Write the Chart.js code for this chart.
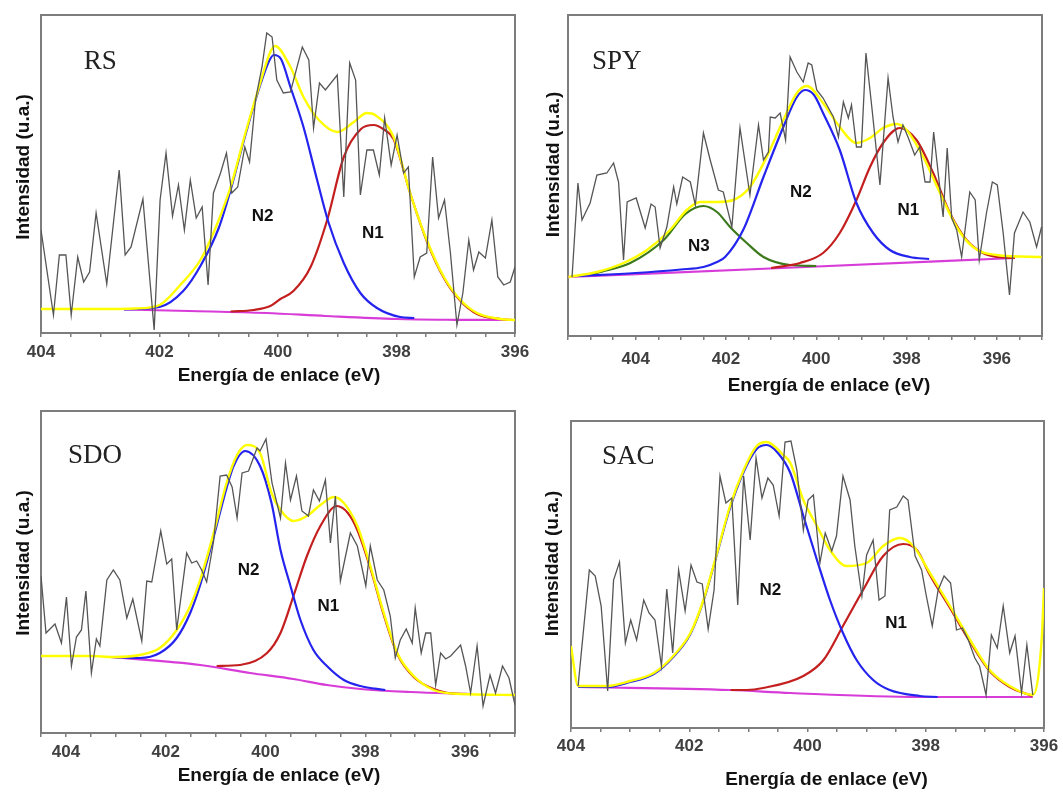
<!DOCTYPE html>
<html>
<head>
<meta charset="utf-8">
<script src="https://cdn.jsdelivr.net/npm/chart.js@4.4.1/dist/chart.umd.min.js"></script>
<style>
  body { margin: 0; background: #fff; width: 1063px; height: 795px; position: relative; overflow: hidden; }
  canvas { position: absolute; }
</style>
</head>
<body>
<canvas id="rsCanvas"></canvas>
<canvas id="spyCanvas"></canvas>
<canvas id="sdoCanvas"></canvas>
<canvas id="sacCanvas"></canvas>
<script>
// tick labels shown on every energy axis (eV)
var energyTicks = [404, 402, 400, 398, 396];

// ---- RS : [binding energy eV, intensity a.u.] ----
var rsRaw = [[404.00,103],[403.79,18],[403.69,78],[403.58,78],[403.49,18],[403.38,76],[403.28,51],[403.18,61],[403.07,120],[402.89,49],[402.68,163],[402.58,78],[402.48,86],[402.28,134],[402.09,3],[401.99,133],[401.89,180],[401.78,117],[401.68,148],[401.58,103],[401.48,153],[401.38,115],[401.28,126],[401.18,48],[401.09,140],[400.97,160],[400.87,180],[400.78,140],[400.68,146],[400.56,186],[400.48,171],[400.38,233],[400.27,266],[400.19,300],[400.10,296],[400.02,253],[399.91,240],[399.79,241],[399.59,286],[399.48,273],[399.40,205],[399.30,250],[399.20,243],[399.00,258],[398.89,136],[398.79,270],[398.69,253],[398.61,138],[398.50,183],[398.39,183],[398.29,158],[398.20,215],[398.09,168],[397.99,198],[397.88,160],[397.80,166],[397.70,56],[397.60,76],[397.49,80],[397.39,176],[397.29,115],[397.19,133],[397.09,80],[396.98,8],[396.88,40],[396.78,93],[396.70,63],[396.61,81],[396.50,75],[396.39,113],[396.29,56],[396.19,48],[396.08,51],[396.00,66]];
var rsEnvelope = [[404.0,24],[403.0,24],[402.4,24.5],[402.0,28],[401.65,48],[401.31,73],[401.09,100],[400.80,146],[400.55,200],[400.30,250],[400.13,281],[400.05,287],[399.79,266],[399.57,236],[399.31,213],[399.00,201],[398.72,211],[398.50,220],[398.36,218],[398.05,196],[397.77,140],[397.49,93],[397.20,56],[396.92,33],[396.64,20],[396.25,14],[396.0,13]];
var rsN2 = [[402.6,23.5],[402.0,26],[401.6,42],[401.3,68],[401.0,105],[400.8,143],[400.55,198],[400.3,248],[400.15,272],[400.07,278],[399.95,274],[399.79,246],[399.57,206],[399.34,153],[399.15,111],[398.89,70],[398.61,40],[398.33,25],[397.94,16],[397.7,15]];
var rsN1 = [[400.8,21.5],[400.41,23],[400.13,27],[399.96,34],[399.74,42],[399.45,66],[399.17,113],[398.89,176],[398.6,204],[398.39,208],[398.2,203],[398.05,194],[397.77,140],[397.49,92],[397.20,55],[396.92,32],[396.64,19],[396.25,14],[396.0,13]];
var rsBase = [[402.6,23.5],[401.5,22],[400.2,20],[399.2,17],[398.0,14],[397.0,13.2],[396.0,13]];

// ---- SPY ----
var spyRaw = [[405.41,59],[405.28,153],[405.19,116],[405.01,133],[404.86,161],[404.64,163],[404.49,173],[404.38,154],[404.27,76],[404.19,134],[403.99,138],[403.79,108],[403.66,132],[403.57,129],[403.46,88],[403.31,109],[403.16,149],[403.09,132],[402.96,159],[402.79,154],[402.68,131],[402.50,203],[402.35,176],[402.17,146],[402.06,144],[401.87,109],[401.69,208],[401.47,141],[401.28,211],[401.17,176],[401.06,184],[401.02,219],[400.91,218],[400.80,223],[400.68,196],[400.58,279],[400.43,264],[400.29,254],[400.18,273],[400.10,271],[399.99,246],[399.85,238],[399.62,219],[399.51,199],[399.40,234],[399.29,218],[399.22,231],[399.11,189],[399.00,189],[398.90,283],[398.77,229],[398.59,151],[398.41,258],[398.30,219],[398.19,194],[398.08,211],[397.96,198],[397.82,181],[397.71,189],[397.59,154],[397.48,154],[397.40,204],[397.30,163],[397.19,119],[397.10,188],[397.00,118],[396.89,106],[396.78,79],[396.60,144],[396.48,136],[396.39,76],[396.23,123],[396.10,154],[395.99,151],[395.86,103],[395.72,41],[395.61,103],[395.42,124],[395.27,114],[395.12,89],[395.01,109]];
var spyEnvelope = [[405.49,59],[404.86,64],[404.27,73],[403.75,86],[403.24,106],[402.87,126],[402.57,134],[402.20,134],[401.84,136],[401.47,149],[401.10,179],[400.73,216],[400.43,243],[400.21,250],[399.85,233],[399.48,209],[399.11,193],[398.81,198],[398.52,208],[398.22,212],[398.00,206],[397.63,179],[397.26,143],[396.89,109],[396.53,89],[396.01,81],[395.01,79]];
var spyN2 = [[405.3,60],[404.0,63],[403.0,66.5],[402.5,69],[402.20,74],[402.02,79],[401.62,106],[401.17,159],[400.73,209],[400.43,239],[400.25,246],[400.05,241],[399.85,223],[399.48,186],[399.11,133],[398.74,103],[398.37,86],[397.93,79],[397.5,77]];
var spyN1 = [[401.0,68],[400.36,73],[399.85,83],[399.48,103],[399.11,136],[398.81,169],[398.52,193],[398.15,208],[397.78,196],[397.41,163],[397.04,123],[396.67,96],[396.31,83],[396.0,79],[395.6,78]];
var spyN3 = [[405.0,61],[404.86,63],[404.12,73],[403.38,96],[402.9,122],[402.50,130],[402.2,124],[401.91,109],[401.54,93],[401.17,79],[400.58,71],[400.0,70]];
var spyBase = [[405.5,59],[400.5,68.5],[395.6,78]];

// ---- SDO ----
var sdoRaw = [[404.50,157],[404.40,100],[404.22,109],[404.09,90],[403.99,136],[403.89,67],[403.79,96],[403.69,103],[403.60,142],[403.49,60],[403.39,94],[403.32,87],[403.18,153],[403.05,163],[402.92,153],[402.78,115],[402.66,134],[402.48,92],[402.38,152],[402.28,151],[402.10,202],[401.98,169],[401.88,174],[401.78,103],[401.58,180],[401.48,170],[401.38,172],[401.28,163],[401.18,151],[401.04,192],[400.91,257],[400.78,258],[400.67,246],[400.57,215],[400.47,260],[400.34,262],[400.17,285],[400.11,282],[399.99,294],[399.87,250],[399.70,215],[399.60,270],[399.50,233],[399.38,257],[399.27,222],[399.14,217],[399.04,243],[398.92,232],[398.80,253],[398.70,190],[398.60,237],[398.50,152],[398.30,200],[398.16,187],[397.99,147],[397.90,187],[397.76,153],[397.63,143],[397.50,117],[397.40,75],[397.30,93],[397.18,104],[397.06,90],[397.00,125],[396.88,80],[396.79,100],[396.69,100],[396.59,48],[396.49,80],[396.39,74],[396.29,77],[396.09,88],[395.99,67],[395.89,40],[395.76,87],[395.64,27],[395.50,58],[395.39,40],[395.25,67],[395.12,55],[395.00,28]];
var sdoEnvelope = [[404.5,77],[403.5,77],[403.05,76],[402.52,78],[402.12,85],[401.78,103],[401.51,127],[401.31,153],[401.04,200],[400.78,250],[400.57,278],[400.37,288],[400.11,280],[399.88,240],[399.70,223],[399.44,212],[399.17,217],[398.90,228],[398.63,236],[398.43,230],[398.16,207],[397.90,167],[397.63,120],[397.36,80],[397.03,57],[396.63,43],[396.09,39],[395.0,38]];
var sdoN2 = [[403.1,76],[402.52,75],[402.12,80],[401.78,95],[401.51,120],[401.31,148],[401.04,196],[400.78,245],[400.64,267],[400.41,282],[400.11,267],[399.88,230],[399.70,183],[399.50,147],[399.30,113],[399.04,83],[398.77,67],[398.43,53],[398.10,47],[397.6,43]];
var sdoN1 = [[400.98,67],[400.51,68],[399.97,80],[399.70,100],[399.44,137],[399.17,177],[398.90,207],[398.57,227],[398.35,220],[398.16,203],[397.90,165],[397.63,118],[397.36,79],[397.03,56],[396.63,44],[396.09,39],[395.9,39]];
var sdoBase = [[403.12,76],[401.31,68],[400.31,60],[399.44,54],[398.77,48],[398.10,44],[397.10,41],[395.89,39]];

// ---- SAC ----
var sacRaw = [[403.88,42],[403.69,158],[403.59,152],[403.49,122],[403.38,37],[403.28,148],[403.18,166],[403.08,85],[402.99,108],[402.89,88],[402.77,128],[402.68,115],[402.58,108],[402.47,62],[402.38,139],[402.28,75],[402.18,158],[402.07,117],[401.97,163],[401.87,146],[401.78,144],[401.68,99],[401.58,138],[401.48,252],[401.38,225],[401.28,230],[401.18,123],[401.08,252],[400.97,188],[400.87,270],[400.77,230],[400.67,250],[400.58,243],[400.48,212],[400.38,286],[400.28,287],[400.18,258],[400.07,198],[399.99,228],[399.90,233],[399.79,165],[399.70,195],[399.59,177],[399.51,192],[399.40,252],[399.28,228],[399.20,182],[399.08,132],[399.00,173],[398.89,188],[398.79,128],[398.69,132],[398.61,218],[398.49,221],[398.38,232],[398.30,228],[398.18,172],[398.07,158],[397.99,132],[397.89,102],[397.79,138],[397.69,152],[397.58,145],[397.48,98],[397.38,100],[397.28,88],[397.17,70],[397.09,62],[396.98,33],[396.89,93],[396.79,80],[396.69,122],[396.58,75],[396.49,92],[396.38,35],[396.29,83],[396.19,33]];
var sacEnvelope = [[404.0,82],[403.88,42],[403.39,42],[403.00,47],[402.60,55],[402.27,72],[401.98,95],[401.76,128],[401.53,175],[401.31,222],[401.08,258],[400.86,282],[400.69,286],[400.41,273],[400.29,265],[400.07,228],[399.84,202],[399.62,178],[399.34,162],[399.00,165],[398.72,182],[398.44,190],[398.21,182],[397.93,155],[397.59,122],[397.25,88],[396.92,58],[396.58,42],[396.19,33],[396.04,88],[396.0,140]];
var sacN2 = [[403.88,41],[403.39,41],[403.00,46],[402.60,54],[402.27,71],[401.98,94],[401.76,127],[401.53,174],[401.31,220],[401.08,256],[400.86,279],[400.69,283],[400.50,275],[400.29,255],[400.07,212],[399.84,168],[399.62,128],[399.40,95],[399.17,68],[398.89,48],[398.61,38],[398.1,32],[397.8,31]];
var sacN1 = [[401.3,38],[401.03,38],[400.75,40],[400.07,52],[399.73,68],[399.40,102],[399.06,138],[398.72,172],[398.38,184],[398.15,178],[397.93,153],[397.59,120],[397.25,86],[396.92,57],[396.58,41],[396.19,32]];
var sacBase = [[403.88,41],[401.31,38],[400.29,35],[398.1,31],[396.19,31]];

// ---- layout / style ----
var FONT = 'Arial, "Liberation Sans", sans-serif';
var SERIF = '"Liberation Serif", "Times New Roman", serif';
var BOX = '#7d7d7d';

// w = 41 (y-axis) + plot width + padRight
var panels = [
    { id: 'rsCanvas', left: 0, top: 0, w: 545, padRight: 30, h: 399, xMin: 396, xMax: 404, yMax: 318, tickPad: 5,
      raw: rsRaw, fit: rsEnvelope, n2: rsN2, n1: rsN1, n3: null, base: rsBase,
      sample: ['RS', 403.0, 271], peaks: [['N2', 400.26, 117], ['N1', 398.40, 99.5]],
      xTitle: [1, 43], yTitle: [-17, -7] },
    { id: 'spyCanvas', left: 527, top: 0, w: 523, padRight: 8, h: 402, xMin: 395, xMax: 405.5, yMax: 321, tickPad: 9,
      raw: spyRaw, fit: spyEnvelope, n2: spyN2, n1: spyN1, n3: spyN3, base: spyBase,
      sample: ['SPY', 404.42, 274], peaks: [['N3', 402.60, 89.5], ['N2', 400.34, 143.5], ['N1', 397.96, 125.5]],
      xTitle: [24, 50], yTitle: [-14, -11] },
    { id: 'sdoCanvas', left: 0, top: 396, w: 523, padRight: 8, h: 403, xMin: 395, xMax: 404.5, yMax: 322, tickPad: 5,
      raw: sdoRaw, fit: sdoEnvelope, n2: sdoN2, n1: sdoN1, n3: null, base: sdoBase,
      sample: ['SDO', 403.42, 277], peaks: [['N2', 400.34, 163], ['N1', 398.74, 127]],
      xTitle: [1, 43], yTitle: [-17, -9] },
    { id: 'sacCanvas', left: 530, top: 406, w: 533, padRight: 19, h: 388, xMin: 396, xMax: 404, yMax: 307, tickPad: 4,
      raw: sacRaw, fit: sacEnvelope, n2: sacN2, n1: sacN1, n3: null, base: sacBase,
      sample: ['SAC', 403.03, 271], peaks: [['N2', 400.63, 138], ['N1', 398.50, 105]],
      xTitle: [19, 52], yTitle: [-18, -11] }
];

function toXY(arr) {
    return arr.map(function (p) { return { x: p[0], y: p[1] }; });
}

function line(arr, color, width, smooth) {
    return {
        data: toXY(arr),
        borderColor: color,
        borderWidth: width,
        pointRadius: 0,
        fill: false,
        tension: 0,
        cubicInterpolationMode: smooth ? 'monotone' : 'default',
        xAxisID: 'x',
        yAxisID: 'y'
    };
}

function makePanel(p) {
    var canvas = document.getElementById(p.id);
    canvas.width = p.w;
    canvas.height = p.h;
    canvas.style.left = p.left + 'px';
    canvas.style.top = p.top + 'px';

    // first dataset is painted last (on top)
    var datasets = [
        line(p.raw, '#555555', 1.3, false),
        line(p.fit, '#ffff00', 2.4, true),
        line(p.n2, '#2424ee', 2.2, true),
        line(p.n1, '#c41f1f', 2.2, true)
    ];
    if (p.n3) datasets.push(line(p.n3, '#3c7a1c', 2.2, true));
    datasets.push(line(p.base, '#d83cd8', 2.2, true));

    var textPlugin = {
        id: 'panelText',
        afterDraw: function (chart) {
            var ctx = chart.ctx, a = chart.chartArea;
            var sx = chart.scales.x, sy = chart.scales.y;
            ctx.save();
            ctx.textAlign = 'center';
            ctx.textBaseline = 'middle';

            ctx.fillStyle = '#222';
            ctx.font = '27px ' + SERIF;
            ctx.fillText(p.sample[0], sx.getPixelForValue(p.sample[1]), sy.getPixelForValue(p.sample[2]));

            ctx.fillStyle = '#111';
            ctx.font = 'bold 17px ' + FONT;
            p.peaks.forEach(function (k) {
                ctx.fillText(k[0], sx.getPixelForValue(k[1]), sy.getPixelForValue(k[2]));
            });

            ctx.font = 'bold 19px ' + FONT;
            ctx.fillText('Energía de enlace (eV)', (a.left + a.right) / 2 + p.xTitle[0], a.bottom + p.xTitle[1]);

            ctx.translate(a.left + p.yTitle[0], (a.top + a.bottom) / 2 + p.yTitle[1]);
            ctx.rotate(-Math.PI / 2);
            ctx.fillText('Intensidad (u.a.)', 0, 0);
            ctx.restore();
        }
    };

    var frame = function (pos) {
        return {
            position: pos,
            display: true,
            ticks: { display: false },
            grid: { display: false },
            border: { display: true, color: BOX, width: 2 }
        };
    };
    var x2 = frame('top');
    x2.afterFit = function (s) { s.height = 0; };
    var y2 = frame('right');
    y2.afterFit = function (s) { s.width = 0; };

    return new Chart(canvas, {
        type: 'line',
        data: { datasets: datasets },
        plugins: [textPlugin],
        options: {
            responsive: false,
            animation: false,
            devicePixelRatio: 1,
            layout: { padding: { left: 0, top: 15, right: p.padRight, bottom: 0 } },
            plugins: { legend: { display: false }, tooltip: { enabled: false } },
            scales: {
                x: {
                    type: 'linear',
                    position: 'bottom',
                    reverse: true,
                    min: p.xMin,
                    max: p.xMax,
                    afterFit: function (s) {
                        s.height = 66;
                        // let the end labels hang over the frame instead of shrinking it
                        s.paddingLeft = 0;
                        s.paddingRight = 0;
                    },
                    afterBuildTicks: function (s) {
                        s.ticks = s.ticks.filter(function (t) {
                            return Math.abs(t.value * 2 - Math.round(t.value * 2)) < 1e-6;
                        });
                    },
                    ticks: {
                        stepSize: 0.5,
                        maxTicksLimit: 100,
                        autoSkip: false,
                        maxRotation: 0,
                        padding: p.tickPad,
                        color: '#404040',
                        font: { family: FONT, size: 17, weight: 'bold' },
                        callback: function (v) {
                            var r = Math.round(v);
                            return (Math.abs(v - r) < 1e-6 && energyTicks.indexOf(r) >= 0) ? String(r) : '';
                        }
                    },
                    grid: { drawOnChartArea: false, drawTicks: true, tickLength: 4, color: BOX, lineWidth: 1.5 },
                    border: { display: true, color: BOX, width: 2 }
                },
                y: {
                    type: 'linear',
                    position: 'left',
                    min: 0,
                    max: p.yMax,
                    afterFit: function (s) { s.width = 41; },
                    ticks: { display: false },
                    grid: { display: false },
                    border: { display: true, color: BOX, width: 2 }
                },
                x2: x2,
                y2: y2
            }
        }
    });
}

panels.forEach(makePanel);
</script>
</body>
</html>
